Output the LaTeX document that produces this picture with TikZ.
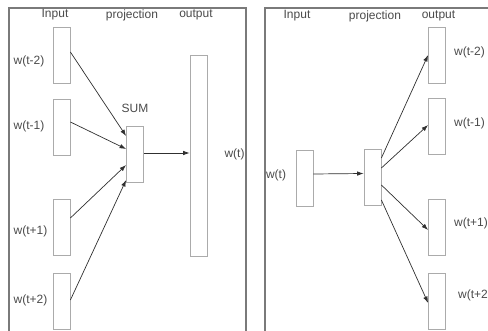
\documentclass[tikz,border=0pt]{standalone}
\usepackage{fontspec}
\setmainfont{Liberation Sans}
\usetikzlibrary{arrows.meta}
\definecolor{framec}{HTML}{7A7A7A}
\definecolor{boxc}{HTML}{ABABAB}
\definecolor{txtc}{HTML}{4A4A4A}
\definecolor{arrc}{HTML}{303030}
\tikzset{
  vec/.style={draw=boxc, line width=0.8pt, rectangle, inner sep=0pt, minimum width=17pt, minimum height=56pt},
  lbl/.style={text=txtc, inner sep=0pt, font=\fontsize{12}{14}\selectfont},
  conn/.style={draw=arrc, line width=0.7pt, -{Latex[length=6.5pt,width=4.5pt]}},
  frame/.style={draw=framec, line width=1.5pt}
}
\begin{document}
\begin{tikzpicture}[x=1pt,y=-1pt]
\useasboundingbox (0,0) rectangle (488,331);
\clip (0,0) rectangle (488,331);
% frames
\draw[frame] (9,340) -- (9,8) -- (246,8) -- (246,340);
\draw[frame] (265,340) -- (265,8) -- (495,8);
% ---------- left panel (CBOW) ----------
\node[lbl] (lin) at (55,15) {Input};
\node[lbl] (lproj) at (132,15) {projection};
\node[lbl] (lout) at (196,15) {output};
\node[vec] (in1) at (61.5,55.5) {};
\node[vec] (in2) at (61.5,127) {};
\node[vec] (in3) at (61.5,227.5) {};
\node[vec] (in4) at (61.5,301) {};
\node[vec] (sum) at (135,154) {};
\node[vec, minimum height=201pt] (out) at (198.5,155.5) {};
\node[lbl] (sumlbl) at (135,108) {SUM};
\node[lbl] (l1) at (29,61) {w(t-2)};
\node[lbl] (l2) at (29,126) {w(t-1)};
\node[lbl] (l3) at (30.5,231) {w(t+1)};
\node[lbl] (l4) at (30.5,300) {w(t+2)};
\node[lbl] (lw) at (234.5,154) {w(t)};
\draw[conn] ([yshift=3.5pt]in1.east) -- ([yshift=18pt]sum.west);
\draw[conn] ([yshift=5pt]in2.east) -- ([yshift=5pt]sum.west);
\draw[conn] ([yshift=9.5pt]in3.east) -- ([yshift=-11pt]sum.west);
\draw[conn] ([yshift=1pt]in4.east) -- ([yshift=-26pt]sum.west);
\draw[conn] ([yshift=1pt]sum.east) -- ([yshift=2.5pt]out.west);
% ---------- right panel (Skip-gram) ----------
\node[lbl] (rin) at (297,16) {Input};
\node[lbl] (rproj) at (375,16) {projection};
\node[lbl] (rout) at (438.5,16) {output};
\node[vec] (win) at (304.5,178) {};
\node[vec] (proj) at (372.5,177.5) {};
\node[vec] (o1) at (437,55) {};
\node[vec] (o2) at (437,126.5) {};
\node[vec] (o3) at (437,227.5) {};
\node[vec] (o4) at (437,301) {};
\node[lbl] (rw) at (276,175) {w(t)};
\node[lbl, anchor=west] (r1) at (454,52) {w(t-2)};
\node[lbl, anchor=west] (r2) at (454,123) {w(t-1)};
\node[lbl, anchor=west] (r3) at (454,223) {w(t+1)};
\node[lbl, anchor=west] (r4) at (458,295) {w(t+2};
\draw[conn] ([yshift=4pt]win.east) -- ([yshift=4pt]proj.west);
\draw[conn] ([yshift=19.5pt]proj.east) -- (o1.west);
\draw[conn] ([yshift=9.5pt]proj.east) -- ([yshift=1.5pt]o2.west);
\draw[conn] ([yshift=-7.5pt]proj.east) -- ([yshift=-2.5pt]o3.west);
\draw[conn] ([yshift=-22.5pt]proj.east) -- ([yshift=-2pt]o4.west);
\end{tikzpicture}
\end{document}
